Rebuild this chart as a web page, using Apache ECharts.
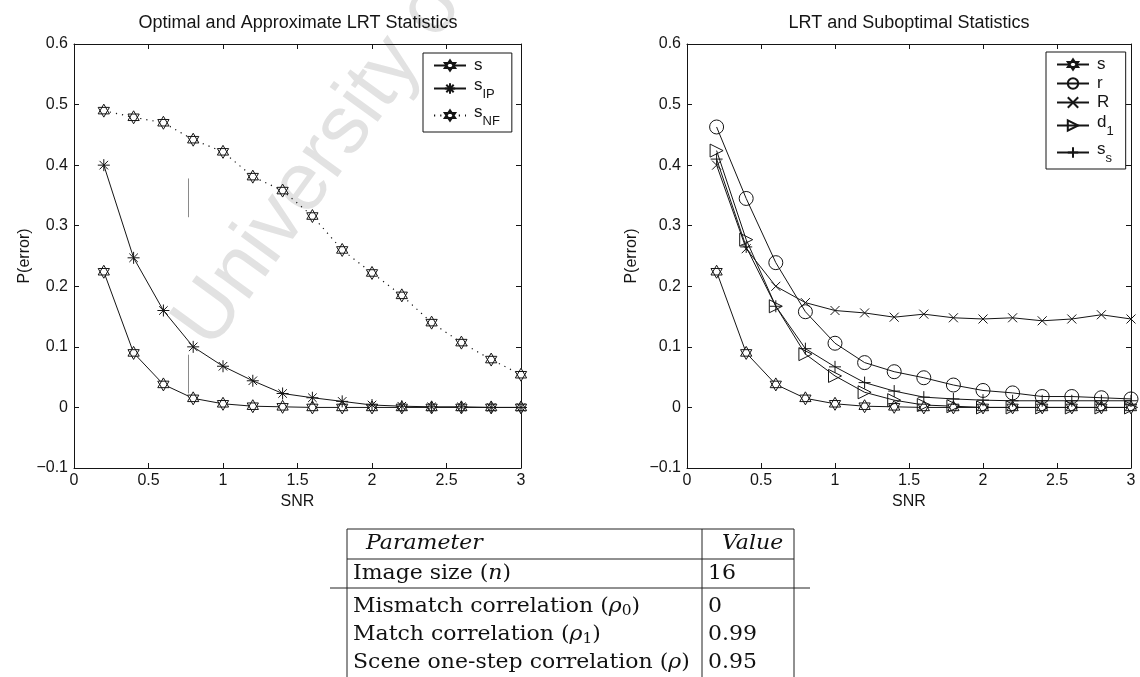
<!DOCTYPE html>
<html>
<head>
<meta charset="utf-8">
<script src="https://cdn.jsdelivr.net/npm/echarts@6/dist/echarts.min.js"></script>
<style>
  html, body { margin: 0; padding: 0; background: #fff; }
  #chart { width: 1140px; height: 677px; }
</style>
</head>
<body>
<div id="chart"></div>
<script>
// ---- data -------------------------------------------------------------
const snr = [0.2, 0.4, 0.6, 0.8, 1.0, 1.2, 1.4, 1.6, 1.8, 2.0, 2.2, 2.4, 2.6, 2.8, 3.0];

// left panel: optimal and approximate LRT statistics
const sOptimal = [0.224, 0.090, 0.038, 0.015, 0.006, 0.002, 0.001, 0, 0, 0, 0, 0, 0, 0, 0];
const sIP      = [0.400, 0.247, 0.160, 0.100, 0.068, 0.044, 0.023, 0.016, 0.010, 0.004, 0.002, 0.001, 0.001, 0, 0];
const sNF      = [0.490, 0.479, 0.470, 0.442, 0.422, 0.381, 0.358, 0.316, 0.260, 0.222, 0.185, 0.140, 0.107, 0.079, 0.054];

// right panel: LRT and suboptimal statistics
const sLRT  = [0.224, 0.090, 0.038, 0.015, 0.006, 0.002, 0.001, 0, 0, 0, 0, 0, 0, 0, 0];
const rStat = [0.463, 0.345, 0.239, 0.158, 0.106, 0.074, 0.059, 0.049, 0.037, 0.028, 0.024, 0.018, 0.018, 0.016, 0.014];
const RStat = [0.400, 0.262, 0.200, 0.173, 0.160, 0.156, 0.149, 0.154, 0.148, 0.146, 0.148, 0.143, 0.146, 0.153, 0.146];
const d1Stat = [0.424, 0.277, 0.167, 0.088, 0.052, 0.025, 0.012, 0.004, 0.002, 0, 0, 0, 0, 0, 0];
const ssStat = [0.410, 0.265, 0.167, 0.097, 0.067, 0.041, 0.027, 0.017, 0.014, 0.012, 0.011, 0.011, 0.011, 0.011, 0.011];

// short stray vertical strokes in the left panel: [snr, from, to]
const strokeSegments = [[0.77, 0.378, 0.314], [0.77, 0.087, 0.023]];

// axes
const xMin = 0, xMax = 3, xStep = 0.5;
const yMin = -0.1, yMax = 0.6, yStep = 0.1;

// titles and labels
const panelTitles = ['Optimal and Approximate LRT Statistics', 'LRT and Suboptimal Statistics'];
const xName = 'SNR';
const yName = 'P(error)';
const legendLabels = {
  s: '{m|s}', sIP: '{r|s}{sub|IP}', sNF: '{r|s}{sub|NF}',
  s2: '{m|s}', r: '{m|r}', R: '{m|R}', d1: '{r|d}{sub|1}', ss: '{r|s}{sub|s}'
};

// parameter table
const tableHeader = ['Parameter', 'Value'];
const tableParams = ['Image size ({i|n})', 'Mismatch correlation ({i|ρ}{sub|0})',
                     'Match correlation ({i|ρ}{sub|1})', 'Scene one-step correlation ({i|ρ})'];
const tableValues = ['16', '0', '0.99', '0.95'];

// ---- styling ----------------------------------------------------------
const SANS = '"Liberation Sans", Arial, Helvetica, sans-serif';
const SERIF = '"DejaVu Serif", "Liberation Serif", serif';
const INK = '#151515';

const HEXAGRAM = 'path://M10 0L18.66 15L1.34 15Z M10 20L1.34 5L18.66 5Z';
const ASTERISK = 'path://M10 0L10 20M0 10L20 10M2.9 2.9L17.1 17.1M2.9 17.1L17.1 2.9';
const CROSS = 'path://M0 0L20 20M0 20L20 0';
const TRIANGLE = 'path://M0 0L20 10L0 20Z';
const PLUS = 'path://M10 0L10 20M0 10L20 10';

const pairs = ys => snr.map((x, i) => [x, ys[i]]);
const tickFmt = v => {
  const r = Math.round(v * 10) / 10;
  return r < 0 ? '\u2212' + Math.abs(r) : String(r);
};

function lineSeries(name, ys, panel, symbol, size, extra) {
  return Object.assign({
    type: 'line', name: name, data: pairs(ys),
    xAxisIndex: panel * 2, yAxisIndex: panel * 2,
    symbol: symbol, symbolSize: size, symbolKeepAspect: true, showAllSymbol: true,
    lineStyle: { color: INK, width: 1 },
    itemStyle: { color: '#fff', borderColor: INK, borderWidth: 1 },
    emphasis: { disabled: true }, silent: true, z: 3
  }, extra || {});
}

function xAxes(grid) {
  const base = {
    gridIndex: grid, type: 'value', min: xMin, max: xMax, interval: xStep,
    splitLine: { show: false },
    axisLine: { show: true, onZero: false, lineStyle: { color: INK, width: 1 } },
    axisTick: { show: true, inside: true, length: 5, lineStyle: { color: INK, width: 1 } }
  };
  return [
    Object.assign({}, base, {
      position: 'bottom', name: xName, nameLocation: 'middle', nameGap: 14,
      nameTextStyle: { color: INK, fontFamily: SANS, fontSize: 16 },
      axisLabel: { color: INK, fontFamily: SANS, fontSize: 16, margin: 5, formatter: tickFmt }
    }),
    Object.assign({}, base, { position: 'top', axisLabel: { show: false } })
  ];
}

function yAxes(grid, gap) {
  const base = {
    gridIndex: grid, type: 'value', min: yMin, max: yMax, interval: yStep,
    splitLine: { show: false },
    axisLine: { show: true, onZero: false, lineStyle: { color: INK, width: 1 } },
    axisTick: { show: true, inside: true, length: 5, lineStyle: { color: INK, width: 1 } }
  };
  return [
    Object.assign({}, base, {
      position: 'left', name: yName, nameLocation: 'middle', nameGap: gap,
      nameTextStyle: { color: INK, fontFamily: SANS, fontSize: 16 },
      axisLabel: { color: INK, fontFamily: SANS, fontSize: 16, margin: 6, formatter: tickFmt }
    }),
    Object.assign({}, base, { position: 'right', axisLabel: { show: false } })
  ];
}

function legendBox(names, left, top, padRight) {
  return {
    data: names, left: left, top: top, orient: 'vertical',
    selectedMode: false, backgroundColor: '#fff',
    borderColor: INK, borderWidth: 1, borderRadius: 0,
    padding: [4, padRight, 4, 10], itemGap: 2, itemWidth: 32, itemHeight: 13,
    formatter: n => legendLabels[n],
    textStyle: {
      color: INK, fontFamily: SANS, fontSize: 16,
      rich: {
        m: { fontFamily: SANS, fontSize: 17, lineHeight: 18, color: INK, padding: [0, 0, 0, 3] },
        r: { fontFamily: SANS, fontSize: 17, lineHeight: 18, padding: [0, 0, 6, 3], color: INK },
        sub: { fontFamily: SANS, fontSize: 13, lineHeight: 13, padding: [12, 0, 0, 0], color: INK }
      }
    }
  };
}

// ---- parameter table (drawn as graphic elements) -----------------------
const tblLeft = 347, tblMid = 702, tblRight = 794;
const tblTop = 529, headRule = 559, bodyRule = 588, tblBottom = 677;
const headY = 544, rowY = [574, 607, 635, 663];
const tableRich = {
  i: { fontFamily: SERIF, fontSize: 20, fontStyle: 'italic', fill: '#111' },
  sub: { fontFamily: SERIF, fontSize: 14, padding: [9, 0, 0, 0], fill: '#111' }
};
const tblLine = (x1, y1, x2, y2) => ({
  type: 'line', silent: true, shape: { x1, y1, x2, y2 },
  style: { stroke: '#222', lineWidth: 1 }
});
const tblText = (x, y, text, italic) => ({
  type: 'text', silent: true, x: x, y: y, scaleX: 1.1,
  style: {
    text: text, fill: '#111', fontFamily: SERIF, fontSize: 20,
    fontStyle: italic ? 'italic' : 'normal',
    textAlign: 'left', textVerticalAlign: 'middle', rich: tableRich
  }
});
const tableElements = [
  tblLine(tblLeft, tblTop, tblRight, tblTop),
  tblLine(tblLeft, headRule, tblRight, headRule),
  tblLine(330, bodyRule, 810, bodyRule),
  tblLine(tblLeft, tblTop, tblLeft, tblBottom),
  tblLine(tblMid, tblTop, tblMid, tblBottom),
  tblLine(tblRight, tblTop, tblRight, tblBottom),
  tblText(366, headY, tableHeader[0], true),
  tblText(722, headY, tableHeader[1], true)
];
tableParams.forEach((p, k) => {
  tableElements.push(tblText(353, rowY[k], p, false));
  tableElements.push(tblText(708, rowY[k], tableValues[k], false));
});

// ---- chart ------------------------------------------------------------
const chart = echarts.init(document.getElementById('chart'), null, { renderer: 'canvas' });

const option = {
  backgroundColor: '#fff',
  animation: false,
  title: [
    { text: panelTitles[0], left: 298, top: 14, textAlign: 'center', padding: 0,
      textStyle: { color: INK, fontFamily: SANS, fontSize: 18, fontWeight: 'normal' } },
    { text: panelTitles[1], left: 909, top: 14, textAlign: 'center', padding: 0,
      textStyle: { color: INK, fontFamily: SANS, fontSize: 18, fontWeight: 'normal' } }
  ],
  grid: [
    { left: 74, top: 44, width: 447, height: 424, containLabel: false, outerBoundsMode: 'none' },
    { left: 687, top: 44, width: 444, height: 424, containLabel: false, outerBoundsMode: 'none' }
  ],
  xAxis: xAxes(0).concat(xAxes(1)),
  yAxis: yAxes(0, 40).concat(yAxes(1, 47)),
  legend: [
    legendBox(['s', 'sIP', 'sNF'], 423, 53, 12),
    legendBox(['s2', 'r', 'R', 'd1', 'ss'], 1046, 52, 12)
  ],
  graphic: [
    { type: 'text', silent: true, z: 0, x: 226, y: 362, rotation: 54 * Math.PI / 180,
      style: { text: 'University of', fill: '#e2e2e2', fontFamily: SANS, fontSize: 82,
               textAlign: 'left', textVerticalAlign: 'bottom' } },
    { type: 'group', silent: true, children: tableElements }
  ],
  series: [
    lineSeries('s', sOptimal, 0, HEXAGRAM, 13, {
      markLine: {
        silent: true, symbol: ['none', 'none'], label: { show: false },
        lineStyle: { color: '#8a8a8a', width: 1, type: 'solid' },
        data: strokeSegments.map(g => [{ coord: [g[0], g[1]] }, { coord: [g[0], g[2]] }])
      }
    }),
    lineSeries('sIP', sIP, 0, ASTERISK, 12),
    lineSeries('sNF', sNF, 0, HEXAGRAM, 13, {
      lineStyle: { color: INK, width: 1.2, type: [1.2, 5] }
    }),
    lineSeries('s2', sLRT, 1, HEXAGRAM, 13),
    lineSeries('r', rStat, 1, 'circle', 14, {
      itemStyle: { color: 'rgba(255,255,255,0)', borderColor: INK, borderWidth: 1 }
    }),
    lineSeries('R', RStat, 1, CROSS, 9),
    lineSeries('d1', d1Stat, 1, TRIANGLE, 13, {
      itemStyle: { color: 'rgba(255,255,255,0)', borderColor: INK, borderWidth: 1 }
    }),
    lineSeries('ss', ssStat, 1, PLUS, 12)
  ]
};

chart.setOption(option);
</script>
</body>
</html>
